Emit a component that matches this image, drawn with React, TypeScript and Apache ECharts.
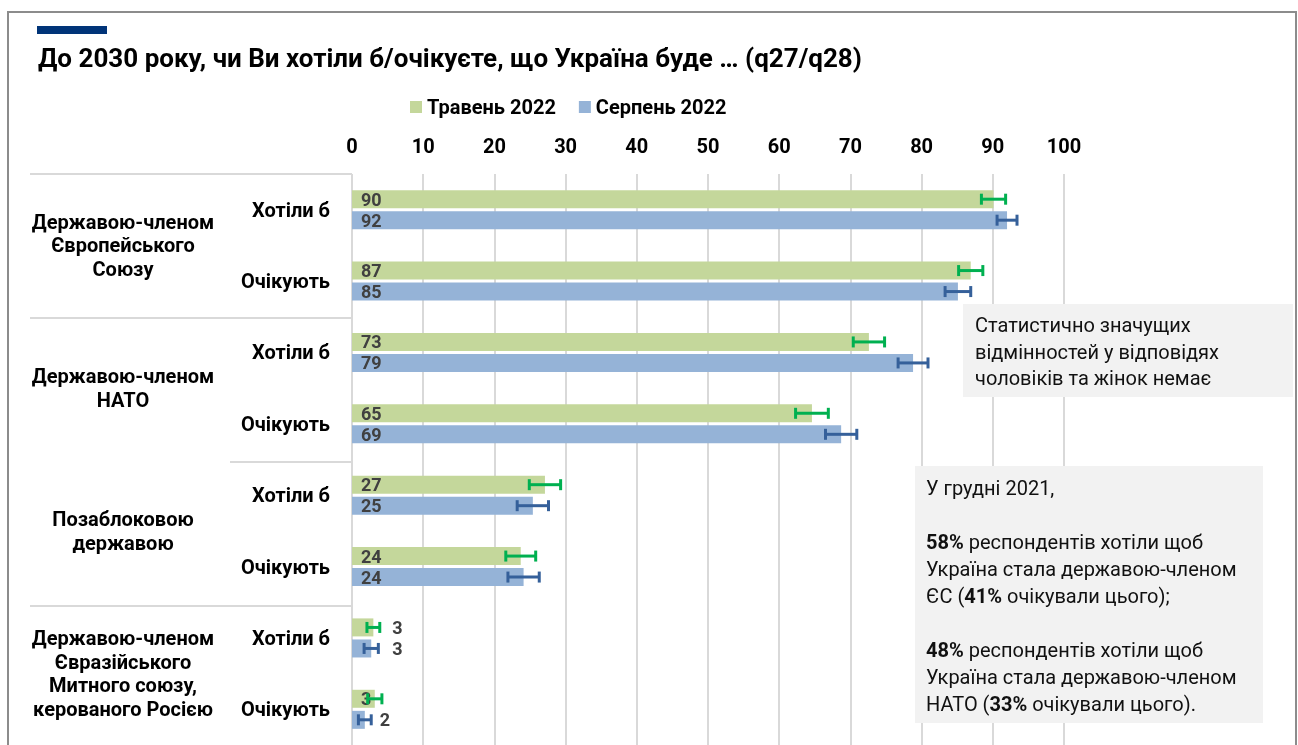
import React, { useEffect, useRef } from 'react';
import * as echarts from 'echarts';

const categories = ['Хотіли б', 'Очікують', 'Хотіли б', 'Очікують', 'Хотіли б', 'Очікують', 'Хотіли б', 'Очікують'];
const groups = [
  'Державою-членом\nЄвропейського\nСоюзу',
  'Державою-членом\nНАТО',
  'Позаблоковою\nдержавою',
  'Державою-членом\nЄвразійського\nМитного союзу,\nкерованого Росією',
];
const seriesNames = ['Травень 2022', 'Серпень 2022'];
const mayValues = [90.1, 86.9, 72.6, 64.6, 27.1, 23.7, 3.0, 3.2];
const augValues = [92.0, 85.1, 78.8, 68.7, 25.4, 24.1, 2.7, 1.8];
const mayErr = [1.7, 1.7, 2.2, 2.3, 2.2, 2.1, 0.9, 1.0];
const augErr = [1.4, 1.8, 2.1, 2.2, 2.2, 2.2, 1.0, 0.9];
const xMin = 0;
const xMax = 100;
const xInterval = 10;

const titleText = 'До 2030 року, чи Ви хотіли б/очікуєте, що Україна буде … (q27/q28)';
const note1 = 'Статистично значущих\nвідмінностей у відповідях\nчоловіків та жінок немає';
const note2 =
  'У грудні 2021,\n\n{b|58%} респондентів хотіли щоб\nУкраїна стала державою-членом\nЄС ({b|41%} очікували цього);\n\n{b|48%} респондентів хотіли щоб\nУкраїна стала державою-членом\nНАТО ({b|33%} очікували цього).';

const FONT = 'Roboto';
const GRID_LEFT = 352;
const GRID_TOP = 174;
const GRID_W = 712;
const GRID_H = 576;
const BAR_W = 18;
const BAR_OFFSET = 10.5;

export default function App() {
  const ref = useRef<HTMLDivElement>(null);
  useEffect(() => {
    const chart = echarts.init(ref.current!, null, { renderer: 'svg' });

    const labelOverrides: Record<string, any> = {
      '0-6': { position: 'right', distance: 19 },
      '1-6': { position: 'right', distance: 21 },
      '1-7': { position: 'right', distance: 15 },
    };

    const makeBarData = (vals: number[], s: number) =>
      vals.map((v, i) => {
        const o = labelOverrides[`${s}-${i}`];
        return o ? { value: v, label: o } : { value: v };
      });

    const makeErrSeries = (vals: number[], errs: number[], color: string, off: number, name: string) => ({
      type: 'custom',
      name,
      xAxisIndex: 0,
      yAxisIndex: 0,
      z: 5,
      encode: { x: 0, y: 2 },
      data: vals.map((v, i) => [v, errs[i], i]),
      renderItem: (params: any, api: any) => {
        const v = api.value(0);
        const e = api.value(1);
        const idx = api.value(2);
        const p1 = api.coord([v - e, idx]);
        const p2 = api.coord([v + e, idx]);
        const y = p1[1] + off;
        const h = 5.5;
        const st = { stroke: color, lineWidth: 3 };
        return {
          type: 'group',
          children: [
            { type: 'line', shape: { x1: p1[0], y1: y, x2: p2[0], y2: y }, style: st },
            { type: 'line', shape: { x1: p1[0], y1: y - h, x2: p1[0], y2: y + h }, style: st },
            { type: 'line', shape: { x1: p2[0], y1: y - h, x2: p2[0], y2: y + h }, style: st },
          ],
        };
      },
    });

    const band = GRID_H / groups.length;
    const sepLines = [
      { y: GRID_TOP, x1: 30 },
      { y: GRID_TOP + band, x1: 30 },
      { y: GRID_TOP + 2 * band, x1: 230 },
      { y: GRID_TOP + 3 * band, x1: 30 },
    ].map((s) => ({
      type: 'line',
      z: 1,
      shape: { x1: s.x1, y1: s.y, x2: GRID_LEFT, y2: s.y },
      style: { stroke: '#d9d9d9', lineWidth: 2 },
    }));

    const barLabel = {
      show: true,
      position: 'insideLeft',
      distance: 9,
      fontFamily: FONT,
      fontSize: 18,
      fontWeight: 'bold',
      lineHeight: 17,
      color: '#404040',
      formatter: (p: any) => String(Math.round(p.value)),
    };

    const option: any = {
      animation: false,
      textStyle: { fontFamily: FONT },
      legend: {
        data: seriesNames,
        left: 405,
        top: 92,
        icon: 'rect',
        itemWidth: 12,
        itemHeight: 12,
        itemGap: 23,
        textStyle: { fontFamily: FONT, fontSize: 20, fontWeight: 'bold', color: '#000' },
      },
      grid: { left: GRID_LEFT, top: GRID_TOP, width: GRID_W, height: GRID_H, containLabel: false },
      xAxis: {
        type: 'value',
        position: 'top',
        min: xMin,
        max: xMax,
        interval: xInterval,
        axisLine: { show: false },
        axisTick: { show: false },
        axisLabel: { margin: 18, fontFamily: FONT, fontSize: 20, fontWeight: 'bold', color: '#000' },
        splitLine: { show: true, lineStyle: { color: '#d9d9d9', width: 2 } },
      },
      yAxis: [
        {
          type: 'category',
          data: categories,
          inverse: true,
          position: 'left',
          axisLine: { show: false },
          axisTick: { show: false },
          axisLabel: { margin: 22, fontFamily: FONT, fontSize: 20, fontWeight: 'bold', color: '#000' },
        },
        {
          type: 'category',
          data: groups,
          inverse: true,
          position: 'left',
          axisLine: { show: false },
          axisTick: { show: false },
          axisLabel: {
            margin: 229,
            align: 'center',
            fontFamily: FONT,
            fontSize: 20,
            fontWeight: 'bold',
            lineHeight: 23.5,
            color: '#000',
          },
        },
      ],
      series: [
        {
          type: 'bar',
          name: seriesNames[0],
          data: makeBarData(mayValues, 0),
          barWidth: BAR_W,
          barGap: '17%',
          itemStyle: { color: '#c4d79b' },
          label: barLabel,
          z: 3,
        },
        {
          type: 'bar',
          name: seriesNames[1],
          data: makeBarData(augValues, 1),
          barWidth: BAR_W,
          barGap: '17%',
          itemStyle: { color: '#95b3d7' },
          label: barLabel,
          z: 3,
        },
        makeErrSeries(mayValues, mayErr, '#00b050', -BAR_OFFSET, 'err-may'),
        makeErrSeries(augValues, augErr, '#35609a', BAR_OFFSET, 'err-aug'),
      ],
      graphic: [
        {
          type: 'rect',
          z: 0,
          shape: { x: 8, y: 12, width: 1288, height: 800 },
          style: { fill: 'none', stroke: '#8c8c8c', lineWidth: 2 },
        },
        { type: 'rect', z: 1, shape: { x: 37, y: 26, width: 70, height: 8 }, style: { fill: '#003478' } },
        {
          type: 'text',
          z: 1,
          x: 38,
          y: 58,
          style: {
            text: titleText,
            fontFamily: FONT,
            fontSize: 26,
            fontWeight: 'bold',
            fill: '#000',
            verticalAlign: 'middle',
          },
        },
        ...sepLines,
        { type: 'rect', z: 100, shape: { x: 963, y: 304, width: 330, height: 93 }, style: { fill: '#f2f2f2' } },
        {
          type: 'text',
          z: 101,
          x: 975,
          y: 312,
          style: { text: note1, fontFamily: FONT, fontSize: 20, lineHeight: 26.5, fill: '#111' },
        },
        { type: 'rect', z: 100, shape: { x: 915, y: 466, width: 348, height: 257 }, style: { fill: '#f2f2f2' } },
        {
          type: 'text',
          z: 101,
          x: 926,
          y: 474,
          style: {
            text: note2,
            fontFamily: FONT,
            fontSize: 20,
            lineHeight: 27,
            fill: '#111',
            rich: { b: { fontFamily: FONT, fontSize: 20, fontWeight: 'bold', lineHeight: 27, fill: '#111' } },
          },
        },
      ],
    };

    chart.setOption(option);
    return () => chart.dispose();
  }, []);
  return <div ref={ref} style={{ position: 'fixed', left: 0, top: 0, width: 1298, height: 745 }} />;
}
